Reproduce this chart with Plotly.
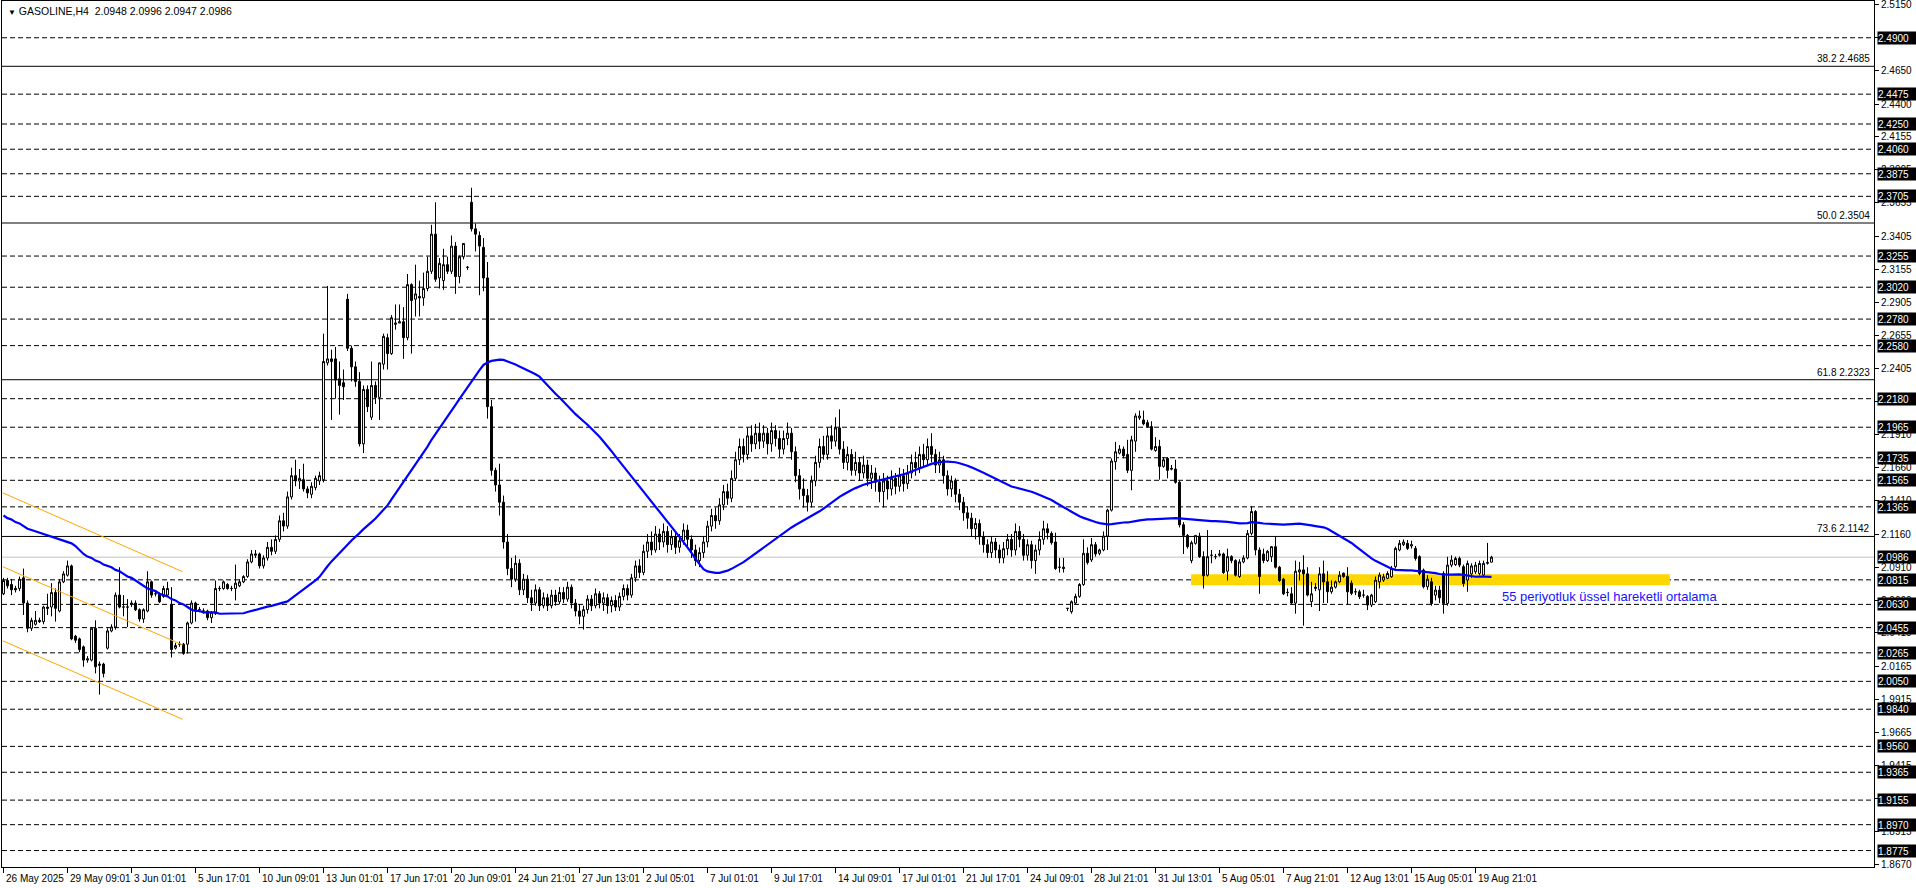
import plotly.graph_objects as go

# ---------------- data ----------------
opens = [
 2.071, 2.081, 2.078, 2.075, 2.075, 2.083, 2.064, 2.045, 2.048, 2.051,
 2.050, 2.061, 2.061, 2.072, 2.058, 2.080, 2.085, 2.092, 2.039, 2.037,
 2.031, 2.021, 2.021, 2.045, 2.017, 2.018, 2.030, 2.043, 2.046, 2.070,
 2.061, 2.061, 2.063, 2.064, 2.059, 2.052, 2.058, 2.080, 2.071, 2.071,
 2.069, 2.070, 2.063, 2.030, 2.033, 2.033, 2.033, 2.049, 2.064, 2.059,
 2.058, 2.058, 2.053, 2.056, 2.075, 2.075, 2.078, 2.075, 2.075, 2.077,
 2.080, 2.084, 2.095, 2.100, 2.101, 2.092, 2.098, 2.106, 2.103, 2.112,
 2.126, 2.122, 2.144, 2.160, 2.156, 2.157, 2.150, 2.146, 2.151, 2.156,
 2.157, 2.245, 2.248, 2.248, 2.233, 2.230, 2.293, 2.256, 2.242, 2.231,
 2.184, 2.225, 2.204, 2.228, 2.219, 2.244, 2.264, 2.252, 2.274, 2.275,
 2.276, 2.264, 2.304, 2.293, 2.295, 2.294, 2.301, 2.314, 2.342, 2.309,
 2.307, 2.319, 2.314, 2.333, 2.310, 2.325, 2.317, 2.366, 2.346, 2.341,
 2.332, 2.309, 2.212, 2.164, 2.153, 2.140, 2.110, 2.090, 2.082, 2.094,
 2.074, 2.082, 2.068, 2.064, 2.074, 2.062, 2.068, 2.062, 2.070, 2.065,
 2.072, 2.067, 2.076, 2.064, 2.058, 2.054, 2.059, 2.067, 2.062, 2.071,
 2.064, 2.068, 2.062, 2.066, 2.061, 2.069, 2.075, 2.070, 2.083, 2.092,
 2.087, 2.103, 2.110, 2.104, 2.116, 2.110, 2.118, 2.108, 2.114, 2.106,
 2.111, 2.119, 2.112, 2.104, 2.096, 2.102, 2.110, 2.122, 2.130, 2.126,
 2.138, 2.148, 2.143, 2.158, 2.172, 2.182, 2.176, 2.190, 2.184, 2.192,
 2.186, 2.192, 2.184, 2.194, 2.188, 2.180, 2.188, 2.192, 2.178, 2.160,
 2.150, 2.145, 2.140, 2.156, 2.170, 2.182, 2.176, 2.190, 2.186, 2.196,
 2.180, 2.170, 2.176, 2.164, 2.170, 2.162, 2.168, 2.158, 2.162, 2.155,
 2.148, 2.156, 2.150, 2.158, 2.152, 2.160, 2.154, 2.162, 2.170, 2.166,
 2.176, 2.172, 2.182, 2.176, 2.168, 2.172, 2.160, 2.150, 2.156, 2.146,
 2.140, 2.132, 2.128, 2.120, 2.124, 2.114, 2.108, 2.102, 2.110, 2.104,
 2.098, 2.105, 2.112, 2.104, 2.118, 2.112, 2.100, 2.108, 2.096, 2.104,
 2.112, 2.120, 2.1165, 2.110, 2.091, 2.091, 2.060, 2.0575, 2.064, 2.069,
 2.078, 2.1015, 2.0965, 2.108, 2.1015, 2.104, 2.1145, 2.134, 2.1705, 2.177,
 2.180, 2.176, 2.164, 2.186, 2.2035, 2.202, 2.200, 2.197, 2.179, 2.182,
 2.167, 2.173, 2.1655, 2.165, 2.155, 2.123, 2.115, 2.096, 2.109, 2.1145,
 2.099, 2.085, 2.100, 2.099, 2.100, 2.101, 2.088, 2.099, 2.096, 2.084,
 2.095, 2.098, 2.1165, 2.133, 2.104, 2.101, 2.096, 2.099, 2.1065, 2.091,
 2.082, 2.072, 2.071, 2.064, 2.0875, 2.089, 2.086, 2.065, 2.075, 2.074,
 2.086, 2.080, 2.0725, 2.076, 2.080, 2.0865, 2.084, 2.079, 2.0725, 2.0725,
 2.070, 2.069, 2.0625, 2.065, 2.080, 2.0813, 2.0826, 2.0838, 2.0914, 2.104,
 2.108, 2.109, 2.107, 2.1052, 2.099, 2.0889, 2.0763, 2.080, 2.070, 2.0738,
 2.0863, 2.0637, 2.0926, 2.093, 2.0976, 2.0914, 2.0813, 2.086, 2.0876, 2.0863,
 2.0851, 2.0939, 2.0948,
]
highs = [
 2.083, 2.083, 2.082, 2.077, 2.084, 2.090, 2.066, 2.053, 2.058, 2.053,
 2.062, 2.071, 2.079, 2.075, 2.082, 2.088, 2.096, 2.093, 2.040, 2.038,
 2.032, 2.024, 2.046, 2.051, 2.020, 2.019, 2.045, 2.048, 2.072, 2.091,
 2.070, 2.067, 2.066, 2.066, 2.060, 2.060, 2.088, 2.081, 2.073, 2.072,
 2.077, 2.080, 2.076, 2.034, 2.035, 2.034, 2.050, 2.066, 2.065, 2.061,
 2.060, 2.059, 2.058, 2.081, 2.077, 2.081, 2.079, 2.077, 2.093, 2.082,
 2.085, 2.097, 2.104, 2.104, 2.102, 2.100, 2.110, 2.112, 2.115, 2.130,
 2.132, 2.148, 2.166, 2.172, 2.165, 2.169, 2.152, 2.155, 2.160, 2.163,
 2.267, 2.303, 2.255, 2.257, 2.246, 2.240, 2.297, 2.258, 2.246, 2.238,
 2.228, 2.228, 2.246, 2.231, 2.245, 2.267, 2.267, 2.281, 2.289, 2.289,
 2.287, 2.312, 2.305, 2.319, 2.307, 2.313, 2.325, 2.349, 2.366, 2.324,
 2.331, 2.325, 2.341, 2.336, 2.326, 2.335, 2.318, 2.377, 2.350, 2.344,
 2.339, 2.321, 2.217, 2.166, 2.169, 2.145, 2.116, 2.098, 2.100, 2.097,
 2.086, 2.085, 2.074, 2.078, 2.076, 2.072, 2.071, 2.074, 2.074, 2.076,
 2.076, 2.080, 2.078, 2.067, 2.063, 2.062, 2.070, 2.070, 2.075, 2.073,
 2.072, 2.071, 2.069, 2.070, 2.072, 2.078, 2.078, 2.086, 2.096, 2.097,
 2.108, 2.116, 2.118, 2.122, 2.120, 2.124, 2.122, 2.119, 2.118, 2.116,
 2.124, 2.123, 2.115, 2.108, 2.106, 2.114, 2.126, 2.135, 2.136, 2.143,
 2.153, 2.154, 2.164, 2.178, 2.188, 2.188, 2.196, 2.198, 2.199, 2.200,
 2.198, 2.196, 2.200, 2.198, 2.194, 2.194, 2.200, 2.196, 2.182, 2.165,
 2.158, 2.150, 2.160, 2.175, 2.188, 2.190, 2.196, 2.198, 2.204, 2.210,
 2.186, 2.182, 2.180, 2.178, 2.174, 2.175, 2.172, 2.168, 2.166, 2.160,
 2.162, 2.160, 2.164, 2.162, 2.166, 2.165, 2.168, 2.176, 2.178, 2.182,
 2.184, 2.188, 2.192, 2.180, 2.178, 2.175, 2.164, 2.160, 2.158, 2.150,
 2.144, 2.137, 2.132, 2.128, 2.127, 2.118, 2.112, 2.114, 2.113, 2.108,
 2.110, 2.116, 2.116, 2.124, 2.122, 2.116, 2.112, 2.111, 2.108, 2.118,
 2.126, 2.124, 2.118, 2.117, 2.098, 2.098, 2.060, 2.066, 2.071, 2.079,
 2.112, 2.106, 2.113, 2.110, 2.105, 2.118, 2.135, 2.173, 2.1855, 2.183,
 2.182, 2.187, 2.190, 2.207, 2.209, 2.209, 2.202, 2.201, 2.189, 2.187,
 2.174, 2.174, 2.168, 2.172, 2.156, 2.125, 2.116, 2.111, 2.115, 2.117,
 2.103, 2.119, 2.104, 2.101, 2.104, 2.102, 2.105, 2.100, 2.097, 2.097,
 2.100, 2.119, 2.137, 2.134, 2.106, 2.105, 2.104, 2.107, 2.114, 2.092,
 2.083, 2.075, 2.076, 2.096, 2.095, 2.100, 2.091, 2.080, 2.079, 2.091,
 2.096, 2.088, 2.081, 2.081, 2.088, 2.087, 2.091, 2.081, 2.075, 2.074,
 2.074, 2.070, 2.071, 2.084, 2.087, 2.086, 2.088, 2.092, 2.1065, 2.1115,
 2.112, 2.1115, 2.111, 2.107, 2.100, 2.090, 2.085, 2.083, 2.077, 2.077,
 2.088, 2.0989, 2.100, 2.099, 2.099, 2.093, 2.096, 2.094, 2.095, 2.096,
 2.096, 2.1093, 2.0996,
]
lows = [
 2.070, 2.075, 2.070, 2.072, 2.073, 2.055, 2.042, 2.043, 2.047, 2.049,
 2.048, 2.055, 2.054, 2.050, 2.057, 2.079, 2.084, 2.036, 2.034, 2.027,
 2.016, 2.019, 2.020, 2.011, 1.995, 2.008, 2.029, 2.042, 2.044, 2.060,
 2.054, 2.046, 2.061, 2.058, 2.050, 2.049, 2.057, 2.068, 2.069, 2.064,
 2.068, 2.069, 2.023, 2.029, 2.031, 2.025, 2.026, 2.048, 2.050, 2.057,
 2.056, 2.051, 2.049, 2.055, 2.073, 2.074, 2.074, 2.073, 2.066, 2.076,
 2.079, 2.083, 2.094, 2.098, 2.090, 2.090, 2.096, 2.100, 2.101, 2.110,
 2.118, 2.120, 2.142, 2.152, 2.150, 2.148, 2.143, 2.143, 2.149, 2.153,
 2.155, 2.243, 2.202, 2.218, 2.206, 2.217, 2.254, 2.231, 2.227, 2.182,
 2.177, 2.208, 2.202, 2.214, 2.202, 2.240, 2.240, 2.251, 2.270, 2.275,
 2.248, 2.262, 2.252, 2.280, 2.280, 2.288, 2.299, 2.312, 2.306, 2.301,
 2.300, 2.312, 2.312, 2.297, 2.305, 2.323, 2.315, 2.344, 2.329, 2.296,
 2.299, 2.203, 2.160, 2.148, 2.130, 2.105, 2.085, 2.076, 2.080, 2.070,
 2.070, 2.064, 2.058, 2.062, 2.058, 2.060, 2.058, 2.060, 2.062, 2.063,
 2.064, 2.065, 2.060, 2.054, 2.048, 2.044, 2.056, 2.058, 2.060, 2.060,
 2.058, 2.056, 2.057, 2.058, 2.058, 2.066, 2.066, 2.068, 2.080, 2.083,
 2.085, 2.098, 2.100, 2.102, 2.104, 2.106, 2.102, 2.104, 2.101, 2.102,
 2.108, 2.107, 2.098, 2.092, 2.091, 2.098, 2.106, 2.118, 2.120, 2.123,
 2.134, 2.138, 2.140, 2.156, 2.168, 2.170, 2.172, 2.178, 2.180, 2.180,
 2.181, 2.176, 2.178, 2.182, 2.174, 2.176, 2.183, 2.172, 2.155, 2.142,
 2.136, 2.133, 2.136, 2.152, 2.166, 2.172, 2.172, 2.180, 2.182, 2.176,
 2.165, 2.164, 2.160, 2.160, 2.156, 2.158, 2.152, 2.150, 2.148, 2.140,
 2.136, 2.142, 2.145, 2.146, 2.148, 2.148, 2.150, 2.158, 2.160, 2.162,
 2.166, 2.168, 2.170, 2.162, 2.162, 2.154, 2.145, 2.144, 2.140, 2.134,
 2.126, 2.120, 2.114, 2.112, 2.108, 2.102, 2.098, 2.098, 2.098, 2.094,
 2.094, 2.100, 2.099, 2.100, 2.106, 2.096, 2.096, 2.090, 2.086, 2.100,
 2.108, 2.112, 2.108, 2.089, 2.087, 2.087, 2.058, 2.056, 2.063, 2.068,
 2.077, 2.093, 2.095, 2.099, 2.100, 2.103, 2.104, 2.133, 2.1645, 2.176,
 2.173, 2.162, 2.149, 2.178, 2.202, 2.198, 2.196, 2.179, 2.178, 2.157,
 2.166, 2.158, 2.164, 2.154, 2.121, 2.101, 2.105, 2.094, 2.108, 2.098,
 2.075, 2.084, 2.094, 2.097, 2.099, 2.086, 2.081, 2.094, 2.084, 2.083,
 2.094, 2.097, 2.115, 2.100, 2.071, 2.094, 2.095, 2.095, 2.090, 2.080,
 2.070, 2.069, 2.063, 2.056, 2.081, 2.047, 2.069, 2.061, 2.073, 2.058,
 2.064, 2.064, 2.071, 2.075, 2.079, 2.083, 2.063, 2.070, 2.070, 2.067,
 2.068, 2.0587, 2.061, 2.064, 2.075, 2.080, 2.082, 2.083, 2.090, 2.103,
 2.107, 2.104, 2.105, 2.096, 2.085, 2.075, 2.074, 2.062, 2.066, 2.064,
 2.056, 2.062, 2.091, 2.092, 2.091, 2.0763, 2.0725, 2.083, 2.086, 2.085,
 2.084, 2.093, 2.0947,
]
closes = [
 2.081, 2.077, 2.074, 2.074, 2.082, 2.064, 2.045, 2.051, 2.051, 2.050,
 2.061, 2.060, 2.072, 2.060, 2.080, 2.086, 2.092, 2.037, 2.036, 2.029,
 2.021, 2.022, 2.045, 2.016, 2.018, 2.011, 2.043, 2.046, 2.070, 2.061,
 2.061, 2.061, 2.064, 2.059, 2.052, 2.059, 2.080, 2.070, 2.071, 2.065,
 2.075, 2.075, 2.029, 2.032, 2.033, 2.026, 2.049, 2.064, 2.059, 2.059,
 2.058, 2.053, 2.057, 2.075, 2.075, 2.080, 2.075, 2.075, 2.079, 2.080,
 2.084, 2.095, 2.101, 2.101, 2.092, 2.098, 2.106, 2.103, 2.112, 2.126,
 2.122, 2.144, 2.160, 2.156, 2.158, 2.150, 2.147, 2.152, 2.158, 2.160,
 2.246, 2.248, 2.246, 2.232, 2.228, 2.227, 2.256, 2.242, 2.231, 2.184,
 2.225, 2.212, 2.228, 2.219, 2.245, 2.265, 2.252, 2.279, 2.275, 2.276,
 2.264, 2.304, 2.292, 2.297, 2.294, 2.301, 2.314, 2.342, 2.308, 2.320,
 2.319, 2.314, 2.333, 2.310, 2.325, 2.335, 2.317, 2.346, 2.342, 2.333,
 2.309, 2.212, 2.164, 2.153, 2.140, 2.110, 2.090, 2.082, 2.094, 2.074,
 2.082, 2.068, 2.064, 2.074, 2.062, 2.068, 2.062, 2.070, 2.065, 2.072,
 2.067, 2.076, 2.064, 2.058, 2.054, 2.059, 2.067, 2.062, 2.071, 2.064,
 2.068, 2.062, 2.066, 2.061, 2.069, 2.075, 2.070, 2.083, 2.092, 2.087,
 2.103, 2.110, 2.104, 2.116, 2.110, 2.118, 2.108, 2.114, 2.106, 2.111,
 2.119, 2.112, 2.104, 2.096, 2.102, 2.110, 2.122, 2.130, 2.126, 2.138,
 2.148, 2.143, 2.158, 2.172, 2.182, 2.176, 2.190, 2.184, 2.192, 2.186,
 2.192, 2.184, 2.194, 2.188, 2.180, 2.188, 2.192, 2.178, 2.160, 2.150,
 2.145, 2.140, 2.156, 2.170, 2.182, 2.176, 2.190, 2.186, 2.196, 2.180,
 2.170, 2.176, 2.164, 2.170, 2.162, 2.168, 2.158, 2.162, 2.155, 2.148,
 2.156, 2.150, 2.158, 2.152, 2.160, 2.154, 2.162, 2.170, 2.166, 2.176,
 2.172, 2.182, 2.176, 2.168, 2.172, 2.160, 2.150, 2.156, 2.146, 2.140,
 2.132, 2.128, 2.120, 2.124, 2.114, 2.108, 2.102, 2.110, 2.104, 2.098,
 2.105, 2.112, 2.104, 2.118, 2.112, 2.100, 2.108, 2.096, 2.104, 2.112,
 2.120, 2.117, 2.1095, 2.090, 2.091, 2.090, 2.060, 2.065, 2.069, 2.078,
 2.1015, 2.0945, 2.108, 2.101, 2.104, 2.1145, 2.134, 2.171, 2.178, 2.180,
 2.175, 2.164, 2.187, 2.205, 2.205, 2.199, 2.197, 2.180, 2.182, 2.167,
 2.172, 2.164, 2.165, 2.155, 2.123, 2.115, 2.1065, 2.1095, 2.115, 2.099,
 2.0845, 2.099, 2.100, 2.099, 2.101, 2.087, 2.099, 2.096, 2.085, 2.095,
 2.098, 2.1165, 2.133, 2.104, 2.084, 2.096, 2.103, 2.1065, 2.091, 2.081,
 2.071, 2.072, 2.064, 2.088, 2.089, 2.086, 2.070, 2.071, 2.076, 2.086,
 2.080, 2.0725, 2.076, 2.080, 2.085, 2.084, 2.0725, 2.0713, 2.0725, 2.0688,
 2.070, 2.0625, 2.070, 2.0813, 2.0851, 2.0838, 2.0863, 2.090, 2.1052, 2.109,
 2.110, 2.1052, 2.108, 2.0976, 2.0863, 2.0763, 2.082, 2.0637, 2.0738, 2.068,
 2.0637, 2.0926, 2.0964, 2.0976, 2.0926, 2.0788, 2.0939, 2.092, 2.0926, 2.0939,
 2.0939, 2.0946, 2.0986,
]

# moving average values visible before enough history exists on the chart (bars 0..53)
ma_early = [
 2.130, 2.128, 2.127, 2.125, 2.124, 2.122, 2.120, 2.119, 2.118, 2.117,
 2.116, 2.115, 2.114, 2.113, 2.112, 2.111, 2.110, 2.109, 2.107, 2.104,
 2.101, 2.099, 2.098, 2.096, 2.095, 2.093, 2.092, 2.091, 2.089, 2.088,
 2.086, 2.084, 2.083, 2.081, 2.079, 2.077, 2.075, 2.074, 2.073, 2.071,
 2.070, 2.069, 2.067, 2.066, 2.064, 2.063, 2.061, 2.059, 2.058, 2.058,
 2.057, 2.057, 2.057, 2.057,
]
ma_period = 55
ma_label = "55 periyotluk üssel hareketli ortalama"
ma_label_pos = [374, 2.0692]

x_label_bars = [0, 16, 32, 48, 64, 80, 96, 112, 128, 144, 160, 176, 192, 208,
                224, 240, 256, 272, 288, 304, 320, 336, 352, 368]
x_labels = ["26 May 2025", "29 May 09:01", "3 Jun 01:01", "5 Jun 17:01",
            "10 Jun 09:01", "13 Jun 01:01", "17 Jun 17:01", "20 Jun 09:01",
            "24 Jun 21:01", "27 Jun 13:01", "2 Jul 05:01", "7 Jul 01:01",
            "9 Jul 17:01", "14 Jul 09:01", "17 Jul 01:01", "21 Jul 17:01",
            "24 Jul 09:01", "28 Jul 21:01", "31 Jul 13:01", "5 Aug 05:01",
            "7 Aug 21:01", "12 Aug 13:01", "15 Aug 05:01", "19 Aug 21:01"]

axis_ticks = [2.5150, 2.4900, 2.4650, 2.4400, 2.4155, 2.3905, 2.3655, 2.3405,
              2.3155, 2.2905, 2.2655, 2.2405, 2.2160, 2.1910, 2.1660, 2.1410,
              2.1160, 2.0910, 2.0660, 2.0415, 2.0165, 1.9915, 1.9665, 1.9415,
              1.9165, 1.8915, 1.8670]

dashed_levels = [2.4900, 2.4475, 2.4250, 2.4060, 2.3875, 2.3705, 2.3255, 2.3020,
                 2.2780, 2.2580, 2.2180, 2.1965, 2.1735, 2.1565, 2.1365, 2.0815,
                 2.0630, 2.0455, 2.0265, 2.0050, 1.9840, 1.9560, 1.9365, 1.9155,
                 1.8970, 1.8775]

fib_levels = [2.4685, 2.3504, 2.2323, 2.1142]
fib_names = ["38.2", "50.0", "61.8", "73.6"]

bid_price = 2.0986
title_values = ["2.0948", "2.0996", "2.0947", "2.0986"]

zone_bars = [296.9, 416.6]
zone_prices = [2.0775, 2.0858]

channel_bars = [-0.2, 44.8]
channel_upper = [2.1471, 2.0876]
channel_middle = [2.0914, 2.0324]
channel_lower = [2.0356, 1.9764]

# ---------------- build ----------------
n = len(closes)
assert len(opens) == n and len(highs) == n and len(lows) == n, (len(opens), len(highs), len(lows), n)
bars = list(range(n))

ma = list(ma_early)
for i in range(len(ma_early), n):
    win = closes[i - ma_period + 1:i + 1]
    ma.append(sum(win) / len(win))

FONT = "Liberation Sans, Arial, sans-serif"
fig = go.Figure()

fig.add_trace(go.Candlestick(
    x=bars, open=opens, high=highs, low=lows, close=closes,
    increasing=dict(line=dict(color="black", width=1), fillcolor="white"),
    decreasing=dict(line=dict(color="black", width=1), fillcolor="black"),
    whiskerwidth=0, hoverinfo="skip", showlegend=False))

fig.add_trace(go.Scatter(x=bars, y=ma, mode="lines",
                         line=dict(color="#0000FF", width=2.2),
                         hoverinfo="skip", showlegend=False))

for ch in (channel_upper, channel_middle, channel_lower):
    fig.add_trace(go.Scatter(x=channel_bars, y=ch, mode="lines",
                             line=dict(color="#FFA500", width=1),
                             hoverinfo="skip", showlegend=False))

shapes = []
shapes.append(dict(type="rect", xref="x", yref="y", x0=zone_bars[0], x1=zone_bars[1],
                   y0=zone_prices[0], y1=zone_prices[1], fillcolor="#FFD700",
                   line=dict(width=0), layer="below"))
for lv in dashed_levels:
    shapes.append(dict(type="line", xref="paper", yref="y", x0=0, x1=1, y0=lv, y1=lv,
                       line=dict(color="black", width=1, dash="5px,3px"), layer="below"))
for lv in fib_levels:
    shapes.append(dict(type="line", xref="paper", yref="y", x0=0, x1=1, y0=lv, y1=lv,
                       line=dict(color="black", width=1), layer="below"))
shapes.append(dict(type="line", xref="paper", yref="y", x0=0, x1=1, y0=bid_price, y1=bid_price,
                   line=dict(color="#C0C0C0", width=1), layer="below"))

ann = []
# title
ann.append(dict(xref="paper", yref="paper", x=0, y=1, xanchor="left", yanchor="top",
                xshift=4, yshift=-2, showarrow=False, align="left",
                text="<span style='font-size:8px'>▼</span> GASOLINE,H4\u00a0\u00a0" + " ".join(title_values),
                font=dict(family=FONT, size=10.5, color="black")))
# x labels
for b, t in zip(x_label_bars, x_labels):
    ann.append(dict(xref="x", yref="paper", x=b, y=0, xanchor="left", yanchor="top",
                    xshift=0, yshift=-4, showarrow=False, text=t,
                    font=dict(family=FONT, size=10, color="black")))
# regular axis labels
for v in axis_ticks:
    ann.append(dict(xref="paper", yref="y", x=1, y=v, xanchor="left", yanchor="middle",
                    xshift=5, showarrow=False, text=f"{v:.4f}",
                    font=dict(family=FONT, size=10, color="black")))
# highlighted labels for horizontal lines
for v in dashed_levels + [bid_price]:
    ann.append(dict(xref="paper", yref="y", x=1, y=v, xanchor="left", yanchor="middle",
                    xshift=3, showarrow=False, text=f"{v:.4f}", bgcolor="black",
                    borderpad=0, width=38, height=12, align="left",
                    font=dict(family=FONT, size=10, color="white")))
# fib labels
for v, nm in zip(fib_levels, fib_names):
    ann.append(dict(xref="paper", yref="y", x=1, y=v, xanchor="right", yanchor="bottom",
                    xshift=-2, yshift=0, showarrow=False, text=f"{nm} {v:.4f}",
                    font=dict(family=FONT, size=10, color="black")))
# MA label
ann.append(dict(xref="x", yref="y", x=ma_label_pos[0], y=ma_label_pos[1], xanchor="left",
                yanchor="middle", showarrow=False, text=ma_label,
                font=dict(family=FONT, size=13, color="#1414FF")))

fig.update_layout(
    width=1916, height=888,
    margin=dict(l=2, r=42, t=1, b=21, pad=0),
    paper_bgcolor="white", plot_bgcolor="white",
    showlegend=False, shapes=shapes, annotations=ann,
    xaxis=dict(range=[-0.375, 467.625], showgrid=False, zeroline=False,
               showline=True, linecolor="black", linewidth=1, mirror=True,
               ticks="outside", tickvals=x_label_bars, ticklen=5, tickcolor="black",
               showticklabels=False, rangeslider=dict(visible=False), fixedrange=True),
    yaxis=dict(range=[1.8651, 2.5177], side="right", showgrid=False, zeroline=False,
               showline=True, linecolor="black", linewidth=1, mirror=True,
               ticks="outside", tickvals=axis_ticks, ticklen=4, tickcolor="black",
               showticklabels=False, fixedrange=True),
)

fig.write_html("out.html", config={"displayModeBar": False},
               post_script="document.body.style.margin='0px';document.body.style.overflow='hidden';")
